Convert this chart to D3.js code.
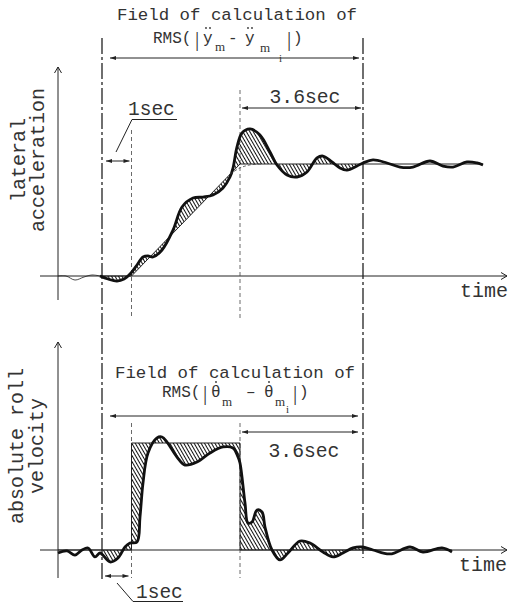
<!DOCTYPE html>
<html>
<head>
<meta charset="utf-8">
<script src="https://cdn.jsdelivr.net/npm/d3@7"></script>
<style>
  body { margin: 0; background: #fff; }
  text { font-family: "Liberation Mono", "DejaVu Sans Mono", monospace; fill: #333; }
  text.serif { font-family: "Liberation Serif", "DejaVu Serif", serif; }
</style>
</head>
<body>
<svg width="509" height="603"></svg>
<script>
// time in arbitrary units, signal in % of the steady reference level
const latPre = [[0,0],[8,0],[17,-3.6],[26,-0.9],[34,0.9],[42,0]];
const latMeas = [[42,0],[50,-2.7],[59,-4.5],[66,-2.7],[73,2.7],[79,9.8],[85,17],[90,17.9],[95,17],
  [104,23.2],[115,41],[124,61.6],[135,69.6],[145,70.5],[155,72.3],[165,78.6],[172,88.4],[175,96.4],
  [179,115.2],[184,127.7],[192,131.3],[202,125.9],[212,110.7],[219,99.1],[229,90.2],[239,88.4],
  [249,92.9],[259,105.4],[265,107.1],[274,101.8],[282,96.4],[289,94.6],[299,98.2],[305,100.9],
  [315,103.6],[329,100.9],[342,97.3],[355,97.3],[372,102.7],[385,98.2],[395,97.3],[409,101.8],
  [419,100.9],[425,99.1]];
const latRef = [[42,0],[73.5,0],[182,100],[425,100]];
const latSoft = [[172,91],[182,96.5],[192,99.2],[204,100]];

const rollMeas = [[0,-2.8],[9,-0.9],[17,-4.7],[24,0],[30,1.9],[37,-6.5],[42,-2.8],[52,-11.2],[60,-7.5],
  [67,2.8],[72,6.5],[79,7.5],[82,30.8],[85,62.6],[90,90.7],[99,104.7],[104,105.6],[109,100.9],
  [119,86.9],[127,79.4],[139,82.2],[152,90.7],[165,96.3],[175,95.3],[180,86.9],[182,81.3],
  [187,43.9],[190,25.2],[194,26.2],[199,37.4],[204,35.5],[207,21.5],[214,0],[222,-9.3],[230,-2.8],
  [242,8.4],[252,6.5],[265,-1.9],[275,-6.5],[285,-2.8],[295,1.9],[304,2.8],[315,0],[332,-3.7],
  [352,2.8],[365,-1.9],[384,1.9],[394,-1.9]];
const rollRef = [[0,0],[73.5,0],[73.5,100],[182,100],[182,0],[394,0]];

// event times
const tStart = 44, tStep = 73.5, tPeak = 182, tEnd = 305;

const svg = d3.select('svg');
const x = d3.scaleLinear().domain([0, 450]).range([58, 508]);
const yTop = d3.scaleLinear().domain([0, 100]).range([276, 164]);
const yBot = d3.scaleLinear().domain([0, 100]).range([550, 443]);

const defs = svg.append('defs');
defs.append('pattern').attr('id', 'hatch').attr('width', 3).attr('height', 10)
    .attr('patternUnits', 'userSpaceOnUse').attr('patternTransform', 'rotate(-30)')
  .append('line').attr('x1', 0.5).attr('y1', 0).attr('x2', 0.5).attr('y2', 10)
    .attr('stroke', '#111').attr('stroke-width', 1);
defs.append('marker').attr('id', 'open').attr('viewBox', '-7 -4 8 8')
    .attr('refX', 0).attr('refY', 0).attr('markerWidth', 8).attr('markerHeight', 8)
    .attr('markerUnits', 'userSpaceOnUse').attr('orient', 'auto')
  .append('path').attr('d', 'M-6,-3.5L0,0L-6,3.5').attr('fill', 'none').attr('stroke', '#222').attr('stroke-width', 1);
defs.append('marker').attr('id', 'tri').attr('viewBox', '-7 -3 8 6')
    .attr('refX', 0).attr('refY', 0).attr('markerWidth', 8).attr('markerHeight', 6)
    .attr('markerUnits', 'userSpaceOnUse').attr('orient', 'auto-start-reverse')
  .append('path').attr('d', 'M-6,-2L0,0L-6,2Z').attr('fill', '#222');
defs.append('clipPath').attr('id', 'field')
  .append('rect').attr('x', x(tStart)).attr('y', 0).attr('width', x(tEnd) - x(tStart)).attr('height', 603);

function seg(x1, y1, x2, y2) {
  return svg.append('line').attr('x1', x1).attr('y1', y1).attr('x2', x2).attr('y2', y2)
    .attr('stroke', '#222').attr('stroke-width', 1).attr('fill', 'none');
}

function panel(y, meas, ref, pre) {
  const line = d3.line().x(d => x(d[0])).y(d => y(d[1])).curve(d3.curveCatmullRom.alpha(0.5));
  const lin = d3.line().x(d => x(d[0])).y(d => y(d[1]));
  const back = ref.slice().reverse().map(d => x(d[0]) + ',' + y(d[1])).join('L');
  svg.append('path').attr('d', line(meas) + 'L' + back + 'Z')
    .attr('fill', 'url(#hatch)').attr('fill-rule', 'evenodd').attr('clip-path', 'url(#field)');
  svg.append('path').attr('d', lin(ref)).attr('fill', 'none').attr('stroke', '#222').attr('stroke-width', 1);
  if (pre) svg.append('path').attr('d', line(pre)).attr('fill', 'none').attr('stroke', '#222').attr('stroke-width', 0.8);
  svg.append('path').attr('d', line(meas)).attr('fill', 'none').attr('stroke', '#111')
    .attr('stroke-width', 2.8).attr('stroke-linejoin', 'round');
  return line;
}

// axes
seg(40, yTop(0), 507, yTop(0)).attr('marker-end', 'url(#open)');
seg(x(0), 300, x(0), 67).attr('marker-end', 'url(#open)');
seg(40, yBot(0), 507, yBot(0)).attr('marker-end', 'url(#open)');
seg(x(0), 578, x(0), 342).attr('marker-end', 'url(#open)');

// guide lines
seg(x(tStart), 38, x(tStart), 580).attr('stroke-width', 1.3).attr('stroke-dasharray', '16,3,3,3');
seg(x(tEnd), 38, x(tEnd), 558).attr('stroke-width', 1.3).attr('stroke-dasharray', '16,3,3,3');
seg(x(tStep), 130, x(tStep), 318).attr('stroke', '#444').attr('stroke-width', 0.8).attr('stroke-dasharray', '4,3');
seg(x(tPeak), 90, x(tPeak), 318).attr('stroke', '#444').attr('stroke-width', 0.8).attr('stroke-dasharray', '4,3');
seg(x(tStep), 423, x(tStep), 578).attr('stroke', '#444').attr('stroke-width', 0.8).attr('stroke-dasharray', '4,3');
seg(x(tPeak), 423, x(tPeak), 578).attr('stroke', '#444').attr('stroke-width', 0.8).attr('stroke-dasharray', '4,3');

const topLine = panel(yTop, latMeas, latRef, latPre);
svg.append('path').attr('d', topLine(latSoft)).attr('fill', 'none').attr('stroke', '#444')
  .attr('stroke-width', 0.8).attr('stroke-dasharray', '3,2');
panel(yBot, rollMeas, rollRef, null);

// dimension arrows
function dim(x1, x2, yy) {
  seg(x1, yy, x2, yy).attr('marker-start', 'url(#tri)').attr('marker-end', 'url(#tri)');
}
dim(x(tStart) + 8, x(tEnd) - 4, 58);
dim(x(tPeak) + 2, x(tEnd) - 2, 108);
dim(x(tStart) + 4, x(tStep) - 2, 161);
dim(x(tStart) + 8, x(tEnd) - 5, 416);
dim(x(tPeak) + 2, x(tEnd) - 5, 432);
dim(x(tStart) + 3, x(tStep) - 3, 576);

// leaders for 1sec
svg.append('path').attr('d', 'M116,152L132,119.5L177,119.5').attr('fill', 'none').attr('stroke', '#222');
svg.append('path').attr('d', 'M117,583L133,601.5L183,601.5').attr('fill', 'none').attr('stroke', '#222');

function txt(s, tx, ty, size, anchor) {
  return svg.append('text').attr('x', tx).attr('y', ty).attr('font-size', size)
    .attr('text-anchor', anchor || 'start').text(s);
}
txt('Field of calculation of', 237, 20, 17.4, 'middle');
txt('Field of calculation of', 235, 378, 17.4, 'middle');
txt('3.6sec', 305, 103, 19.7, 'middle');
txt('3.6sec', 304, 457, 19.7, 'middle');
txt('1sec', 128, 115, 19.5);
txt('1sec', 136, 598, 19.5);
txt('time', 508, 297, 20, 'end');
txt('time', 507, 571, 20, 'end');

// RMS formulas: [text, x, y, size, serif]; dots drawn as small marks
function formula(parts, dots) {
  parts.forEach(p => txt(p[0], p[1], p[2], p[3]).classed('serif', !!p[4]));
  svg.selectAll(null).data(dots).enter().append('circle')
    .attr('cx', d => d[0]).attr('cy', d => d[1]).attr('r', 0.9).attr('fill', '#333');
}
formula([['RMS(', 153, 43, 16], ['|', 195, 46, 21, 1], ['y', 203, 43, 16],
  ['m', 215, 51, 13, 1], ['-', 228, 43, 16], ['y', 245, 43, 16],
  ['m', 260, 52, 13, 1], ['i', 279, 62, 11, 1], ['|', 287, 46, 21, 1], [')', 293, 43, 16]],
  [[206, 28], [210, 28], [248, 28], [252, 28]]);
formula([['RMS(', 162, 397, 16], ['|', 203, 400, 21, 1], ['θ', 211, 397, 16],
  ['m', 222, 406, 13, 1], ['–', 246, 397, 16], ['θ', 264, 397, 16],
  ['m', 275, 406, 13, 1], ['i', 286, 413, 11, 1], ['|', 293, 400, 21, 1], [')', 299, 397, 16]],
  [[216, 382], [269, 382]]);

// y labels
function ylab(lines, cy) {
  lines.forEach(l => svg.append('text').attr('transform', `translate(${l[1]},${cy}) rotate(-90)`)
    .attr('text-anchor', 'middle').attr('font-size', 20).text(l[0]));
}
ylab([['lateral', 25], ['acceleration', 44]], 160);
ylab([['absolute roll', 23], ['velocity', 43]], 446);
</script>
</body>
</html>
